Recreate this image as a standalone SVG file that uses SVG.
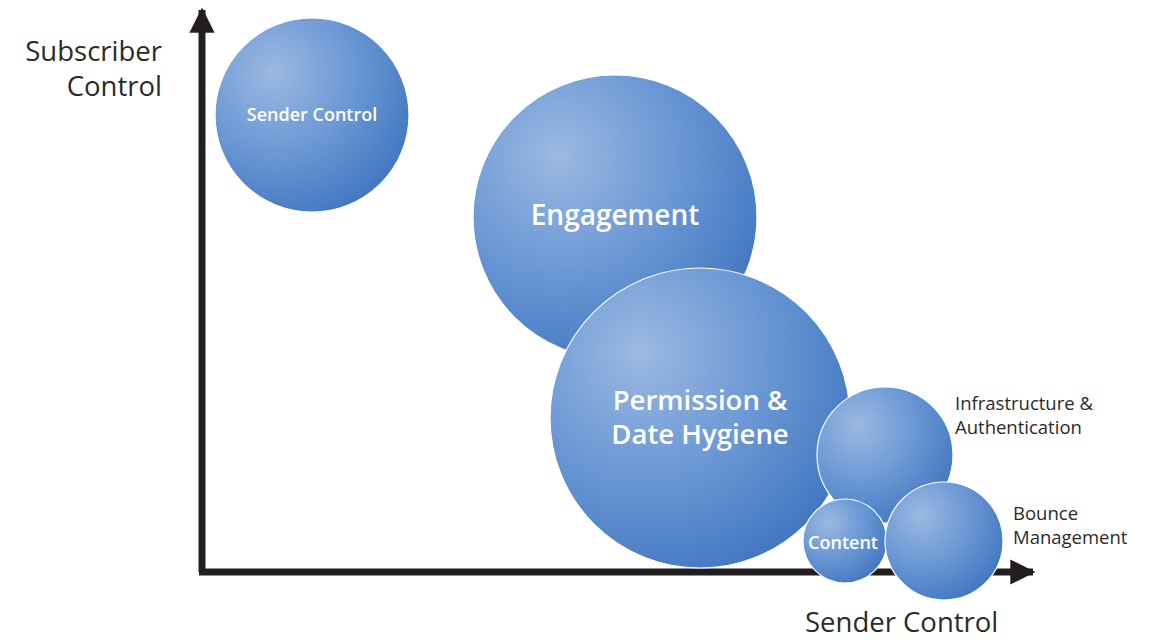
<svg xmlns="http://www.w3.org/2000/svg" width="1157" height="640" viewBox="0 0 1157 640">
  <defs>
    <radialGradient id="ball" cx="0.32" cy="0.3" r="0.75" fx="0.3" fy="0.28">
      <stop offset="0" stop-color="#9bb9e2"/>
      <stop offset="0.55" stop-color="#6a97d4"/>
      <stop offset="1" stop-color="#4479c2"/>
    </radialGradient>
    <marker id="head" viewBox="0 0 10 10" refX="9" refY="5" markerWidth="4" markerHeight="3.6" orient="auto" markerUnits="strokeWidth">
      <path d="M0,0 L10,5 L0,10 Z" fill="#231f20"/>
    </marker>
  </defs>
  <style>
    .ball { fill: url(#ball); stroke: #ffffff; stroke-width: 1.2; }
    .axis { stroke: #231f20; stroke-width: 7; fill: none; }
    .in { font-family: "Open Sans", "Liberation Sans", sans-serif; fill: #ffffff; text-anchor: middle; font-weight: 600; }
    .out { font-family: "Open Sans", "Liberation Sans", sans-serif; fill: #2b2b2b; }
  </style>
  <rect width="1157" height="640" fill="#ffffff"/>

  <!-- axes -->
  <g id="connectors">
    <path class="axis" d="M202,572 L202,10" marker-end="url(#head)"/>
    <path class="axis" d="M199,572 L1033,572" marker-end="url(#head)"/>
  </g>

  <!-- axis titles -->
  <g id="y-title">
    <text class="out" x="162" y="61" font-size="27.5" text-anchor="end">Subscriber</text>
    <text class="out" x="162" y="96" font-size="27.5" text-anchor="end">Control</text>
  </g>
  <g id="x-title">
    <text class="out" x="805" y="632" font-size="27.5">Sender Control</text>
  </g>

  <!-- bubbles -->
  <g id="sender-control">
    <circle class="ball" cx="312" cy="115" r="97"/>
    <text class="in" x="312" y="121" font-size="18">Sender Control</text>
  </g>
  <g id="engagement">
    <circle class="ball" cx="615" cy="217" r="142"/>
    <text class="in" x="615" y="225" font-size="28">Engagement</text>
  </g>
  <g id="permission">
    <circle class="ball" cx="700" cy="418" r="150"/>
    <text class="in" x="700" y="410" font-size="27.5">Permission &amp;</text>
    <text class="in" x="700" y="444" font-size="27.5">Date Hygiene</text>
  </g>
  <g id="infrastructure">
    <circle class="ball" cx="885" cy="455" r="68"/>
    <text class="out" x="955" y="410" font-size="18.5">Infrastructure &amp;</text>
    <text class="out" x="955" y="434" font-size="18.5">Authentication</text>
  </g>
  <g id="content">
    <circle class="ball" cx="845" cy="541" r="42"/>
    <text class="in" x="843" y="549" font-size="18">Content</text>
  </g>
  <g id="bounce">
    <circle class="ball" cx="944" cy="541" r="59"/>
    <text class="out" x="1013" y="520" font-size="18.5">Bounce</text>
    <text class="out" x="1013" y="544" font-size="18.5">Management</text>
  </g>
</svg>
